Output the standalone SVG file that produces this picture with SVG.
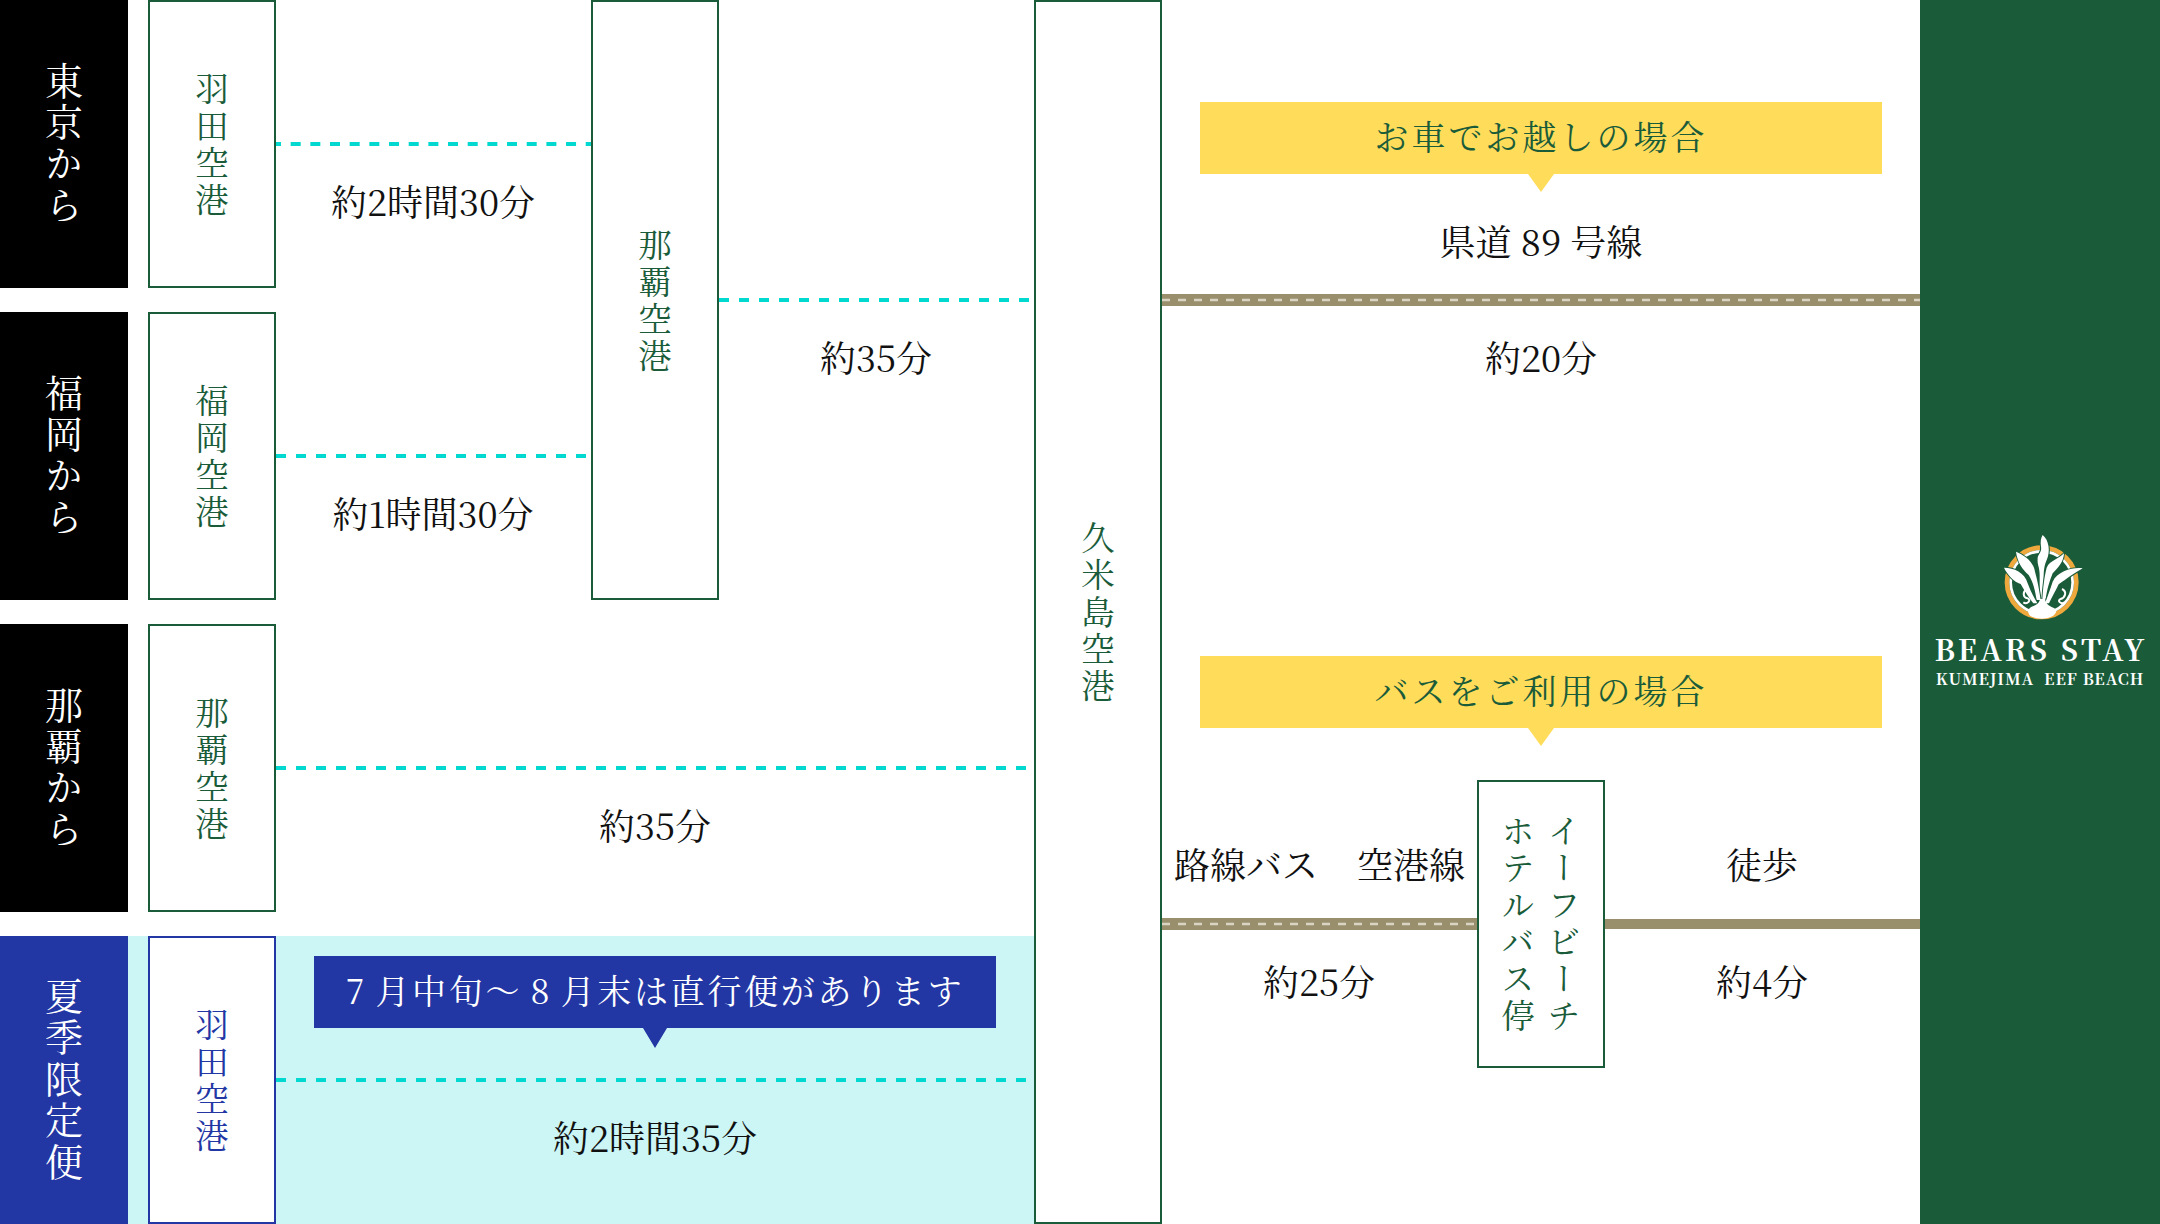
<svg xmlns="http://www.w3.org/2000/svg" width="2160" height="1224" viewBox="0 0 2160 1224">
<style>
text{font-family:"Noto Serif CJK JP","Liberation Serif","Noto Sans CJK JP",serif}
.t{font-size:36px;fill:#111;text-anchor:middle}
.v{writing-mode:vertical-rl;text-anchor:middle}
.side{font-size:38px;letter-spacing:3.4px;fill:#fff}
.air{font-size:33.5px;letter-spacing:3.5px;fill:#1a5c3a}
.box{fill:#fff;stroke:#1a5c3a;stroke-width:2}
.bl{fill:#000}
.dash{stroke:#00d8d0;stroke-width:4;stroke-dasharray:10 10;fill:none}
.road{fill:#9a8f6d}
.rd{stroke:#d9d4c3;stroke-width:2.5;stroke-dasharray:8 8;fill:none}
.ban{font-size:34px;letter-spacing:3px;text-anchor:middle}
.leaf{fill:#fff;stroke:#1a5c3a;stroke-width:6;paint-order:stroke}
.curl{fill:none;stroke:#fff;stroke-width:6}
</style>
<rect x="128" y="936" width="908" height="288" fill="#ccf6f5"/>
<g id="connectors">
<path class="dash" d="M276 144H592" style="stroke-dasharray:10 9.67;stroke-dashoffset:5"/>
<path class="dash" d="M276 456H592M719 300H1034M276 768H1034M276 1080H1034"/>
<rect class="road" x="1162" y="294" width="758" height="12"/>
<path class="rd" d="M1162 300H1920"/>
<rect class="road" x="1162" y="918" width="315" height="12"/>
<path class="rd" d="M1162 924H1477"/>
<rect class="road" x="1605" y="919" width="315" height="10"/>
</g>
<g id="from-tokyo"><rect class="bl" x="0" y="0" width="128" height="288"/><text class="side v" x="64" y="144">東京から</text></g>
<g id="from-fukuoka"><rect class="bl" x="0" y="312" width="128" height="288"/><text class="side v" x="64" y="456">福岡から</text></g>
<g id="from-naha"><rect class="bl" x="0" y="624" width="128" height="288"/><text class="side v" x="64" y="768">那覇から</text></g>
<g id="from-summer"><rect x="0" y="936" width="128" height="288" fill="#2236a4"/><text class="side v" x="64" y="1080">夏季限定便</text></g>
<g id="haneda"><rect class="box" x="149" y="1" width="126" height="286"/><text class="air v" x="212" y="145.5">羽田空港</text></g>
<g id="fukuoka"><rect class="box" x="149" y="313" width="126" height="286"/><text class="air v" x="212" y="457.5">福岡空港</text></g>
<g id="naha"><rect class="box" x="149" y="625" width="126" height="286"/><text class="air v" x="212" y="769.5">那覇空港</text></g>
<g id="haneda-summer"><rect x="149" y="937" width="126" height="286" fill="#fff" stroke="#2236a4" stroke-width="2"/><text class="air v" x="212" y="1081.5" style="fill:#2236a4">羽田空港</text></g>
<g id="naha-hub"><rect class="box" x="592" y="1" width="126" height="598"/><text class="air v" x="655" y="301.5">那覇空港</text></g>
<g id="kumejima"><rect class="box" x="1035" y="1" width="126" height="1222"/><text class="air v" x="1098" y="613.5">久米島空港</text></g>
<g id="bus-stop"><rect class="box" x="1478" y="781" width="126" height="286"/><text class="air v" x="1564" y="925">イーフビーチ</text><text class="air v" x="1518" y="925">ホテルバス停</text></g>
<g id="labels">
<text class="t" x="433" y="216">約2時間30分</text>
<text class="t" x="433" y="528">約1時間30分</text>
<text class="t" x="876" y="372">約35分</text>
<text class="t" x="655" y="840">約35分</text>
<text class="t" x="655" y="1152">約2時間35分</text>
<text class="t" x="1541" y="372">約20分</text>
<text class="t" x="1541" y="256">県道 89 号線</text>
<text class="t" x="1246" y="879">路線バス</text>
<text class="t" x="1411" y="879">空港線</text>
<text class="t" x="1319" y="996">約25分</text>
<text class="t" x="1762" y="879">徒歩</text>
<text class="t" x="1762" y="996">約4分</text>
</g>
<g id="banner-car"><path d="M1200 102H1882V174H1554L1541 192L1528 174H1200Z" fill="#ffdc5a"/><text class="ban" x="1541" y="150" fill="#1a5c3a">お車でお越しの場合</text></g>
<g id="banner-bus"><path d="M1200 656H1882V728H1554L1541 746L1528 728H1200Z" fill="#ffdc5a"/><text class="ban" x="1541" y="704" fill="#1a5c3a">バスをご利用の場合</text></g>
<g id="banner-summer"><path d="M314 956H996V1028H667L655 1048L643 1028H314Z" fill="#2236a4"/><text class="ban" x="655" y="1004" fill="#fff" style="word-spacing:-3px;letter-spacing:2.7px">7 月中旬～ 8 月末は直行便があります</text></g>
<g id="hotel"><rect x="1920" y="0" width="240" height="1224" fill="#1a5c3a"/>
<g transform="translate(1990 525) scale(.3333)">
<circle cx="155" cy="172" r="104" fill="none" stroke="#eea83c" stroke-width="14"/>
<circle cx="155" cy="172" r="93" fill="none" stroke="#fff" stroke-width="8"/>
<path class="leaf" d="M158 30C177 45 182 80 170 105C163 122 161 135 161 160L161 230L149 230L149 150C149 125 141 120 143 98C146 85 156 80 153 65C151 50 152 40 158 30Z"/>
<path class="leaf" d="M78 80C104 92 130 108 135 140C142 165 147 190 152 225L140 225C135 195 130 172 116 150C96 132 82 110 78 80Z"/>
<path class="leaf" d="M222 85C222 108 204 130 188 145C180 165 170 195 167 225L157 225C159 190 163 155 170 128C180 106 205 103 222 85Z"/>
<path class="leaf" d="M42 128C72 128 104 142 113 175C120 195 130 215 142 235L130 235C114 215 104 197 92 177C72 170 54 152 42 128Z"/>
<path class="leaf" d="M278 130C250 126 203 138 188 170C180 195 172 215 165 235L177 235C187 215 197 197 206 178C228 163 256 142 278 130Z"/>
<path class="curl" d="M110 192C96 202 100 218 112 220C126 224 112 240 100 232"/>
<path class="curl" d="M216 192C232 200 226 218 212 222C200 226 212 240 224 232"/>
<path d="M125 245C140 240 148 235 150 222L165 222C167 235 175 242 190 248C205 255 198 265 190 272C170 284 140 284 120 272C112 262 112 252 125 245Z" fill="#fff"/>
</g>
<text x="2041" y="661" text-anchor="middle" font-size="29" font-weight="700" letter-spacing="3.2" fill="#fff">BEARS STAY</text>
<text x="2040" y="685" text-anchor="middle" font-size="15.7" font-weight="700" letter-spacing="0.9" fill="#fff">KUMEJIMA<tspan dx="10">EEF BEACH</tspan></text>
</g>
</svg>
